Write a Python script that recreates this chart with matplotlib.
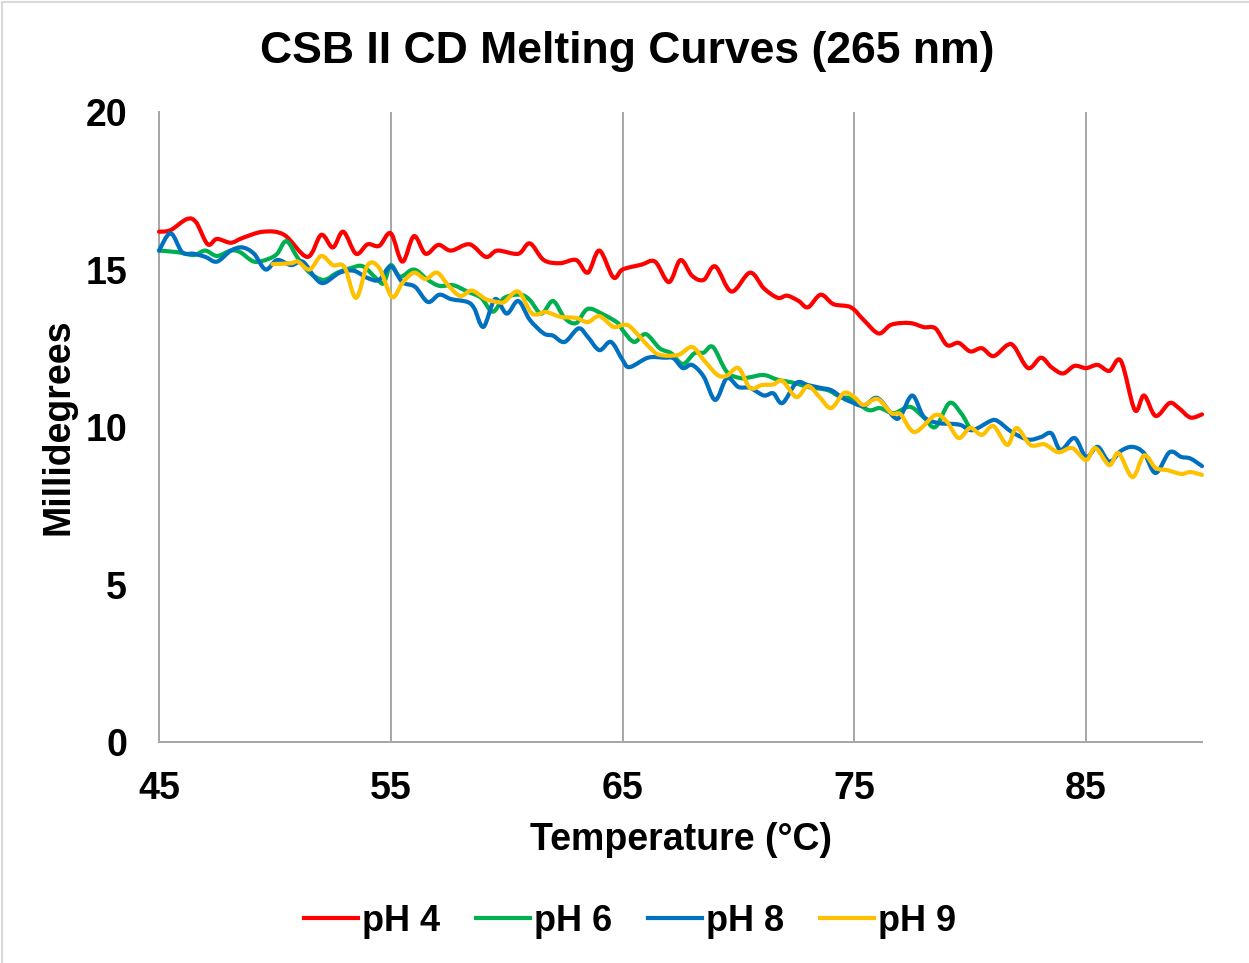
import matplotlib
matplotlib.use("Agg")
import matplotlib.pyplot as plt
from matplotlib.lines import Line2D
from matplotlib.path import Path
from matplotlib.patches import PathPatch

plt.rcParams['font.family'] = ['Liberation Sans', 'DejaVu Sans']
plt.rcParams['font.weight'] = 'bold'

# ---- data: temperature (°C) and CD signal (millidegrees) per pH ----
t_ph4 = [45.0, 45.5, 46.2, 46.6, 47.1, 47.5, 48.1, 48.6, 49.5, 50.4, 51.4, 52.0, 52.5, 52.95,
         53.5, 54.0, 54.5, 55.0, 55.5, 56.0, 56.5, 57.05, 57.6, 58.4, 59.1, 59.6, 60.5, 61.0,
         61.6, 62.3, 63.0, 63.5, 64.0, 64.6, 65.0, 65.8, 66.4, 67.0, 67.5, 68.0, 68.5, 69.0,
         69.7, 70.5, 71.1, 71.7, 72.1, 72.6, 73.0, 73.55, 74.1, 74.85, 75.4, 76.05, 76.6, 77.4,
         78.0, 78.5, 79.0, 79.5, 80.0, 80.5, 81.0, 81.6, 81.9, 82.5, 83.05, 83.5, 84.0, 84.5,
         85.0, 85.5, 86.0, 86.5, 87.1, 87.5, 88.0, 88.6, 89.0, 89.5, 90.0]
v_ph4 = [16.2, 16.25, 16.6, 16.5, 15.8, 15.97, 15.85, 16.0, 16.2, 16.1, 15.4, 16.1, 15.7, 16.2,
         15.5, 15.8, 15.75, 16.15, 15.25, 16.06, 15.5, 15.78, 15.6, 15.8, 15.4, 15.6, 15.5, 15.83,
         15.3, 15.2, 15.3, 14.9, 15.6, 14.75, 15.0, 15.15, 15.25, 14.6, 15.3, 14.8, 14.67, 15.1,
         14.3, 14.9, 14.4, 14.1, 14.17, 14.0, 13.8, 14.2, 13.9, 13.8, 13.4, 12.97, 13.25, 13.3,
         13.17, 13.13, 12.6, 12.67, 12.4, 12.5, 12.25, 12.6, 12.55, 11.87, 12.2, 11.9, 11.7, 11.94,
         11.87, 11.97, 11.78, 12.1, 10.54, 11.0, 10.35, 10.76, 10.6, 10.3, 10.4]

t_ph6 = [45.0, 45.8, 46.5, 47.0, 47.5, 48.1, 48.5, 49.1, 49.7, 50.1, 50.5, 51.0, 51.5, 52.1,
         52.7, 53.3, 53.8, 54.4, 54.7, 55.0, 55.4, 56.0, 56.6, 57.1, 57.7, 58.3, 58.9, 59.4,
         59.9, 60.6, 61.0, 61.5, 62.0, 62.5, 63.0, 63.5, 64.2, 64.8, 65.0, 65.5, 66.0, 66.6,
         67.1, 67.6, 68.1, 68.5, 68.9, 69.5, 70.1, 70.5, 71.1, 71.7, 72.4, 73.0, 73.85, 74.4,
         74.85, 75.6, 76.1, 76.7, 77.4, 78.0, 78.5, 79.1, 79.6, 79.95]
v_ph6 = [15.6, 15.55, 15.46, 15.6, 15.43, 15.6, 15.55, 15.25, 15.33, 15.5, 15.9, 15.35, 14.9, 14.67,
         14.9, 15.05, 15.1, 14.7, 14.57, 15.14, 14.77, 15.0, 14.67, 14.48, 14.5, 14.3, 14.1, 13.66,
         14.1, 14.2, 14.03, 13.6, 14.0, 13.46, 13.3, 13.75, 13.56, 13.3, 13.08, 12.7, 12.95, 12.5,
         12.34, 12.0, 12.34, 12.36, 12.54, 11.75, 11.55, 11.58, 11.65, 11.5, 11.4, 11.27, 11.17, 10.95,
         10.9, 10.54, 10.6, 10.44, 10.64, 10.3, 10.0, 10.76, 10.44, 10.0]

t_ph8 = [45.0, 45.5, 46.0, 46.5, 47.0, 47.5, 48.1, 48.6, 49.1, 49.6, 50.1, 50.7, 51.2, 51.7,
         52.1, 52.8, 53.4, 54.0, 54.5, 55.0, 55.5, 56.05, 56.6, 57.1, 57.6, 58.3, 58.6, 59.0,
         59.5, 60.0, 60.5, 61.0, 61.6, 62.0, 62.5, 63.1, 63.5, 64.0, 64.5, 65.0, 65.3, 66.1,
         66.8, 67.2, 67.6, 68.0, 68.5, 69.0, 69.5, 70.0, 70.5, 71.1, 71.5, 71.9, 72.5, 73.0,
         73.55, 74.0, 74.5, 74.85, 75.4, 76.0, 76.7, 77.0, 77.5, 78.0, 78.6, 79.2, 79.6, 80.1,
         80.9, 81.2, 81.8, 82.5, 83.05, 83.5, 83.9, 84.5, 85.0, 85.5, 86.0, 86.5, 87.0, 87.5,
         88.0, 88.6, 89.1, 89.5, 90.0]
v_ph8 = [15.6, 16.15, 15.55, 15.5, 15.4, 15.25, 15.6, 15.7, 15.5, 15.0, 15.3, 15.14, 15.25, 14.77,
         14.57, 14.9, 14.96, 14.73, 14.67, 15.1, 14.6, 14.45, 13.97, 14.2, 14.06, 13.97, 13.77, 13.18,
         14.06, 13.6, 14.0, 13.4, 12.97, 12.9, 12.7, 13.13, 12.86, 12.44, 12.7, 12.13, 11.9, 12.2,
         12.2, 12.18, 11.87, 11.97, 11.6, 10.86, 11.55, 11.27, 11.24, 11.0, 11.07, 10.76, 11.4, 11.33,
         11.24, 11.17, 10.92, 10.8, 10.67, 10.92, 10.32, 10.35, 11.0, 10.32, 10.13, 10.1, 10.06, 9.9,
         10.2, 10.18, 9.84, 9.6, 9.68, 9.8, 9.27, 9.65, 9.05, 9.37, 8.9, 9.24, 9.37, 9.17,
         8.54, 9.2, 9.05, 9.0, 8.76]

t_ph9 = [49.9, 50.7, 51.0, 51.5, 52.0, 52.5, 53.0, 53.5, 54.0, 54.5, 55.05, 55.5, 56.0, 56.5,
         57.0, 57.5, 58.0, 58.5, 59.1, 59.6, 59.9, 60.5, 61.1, 61.7, 62.3, 63.0, 63.5, 64.0,
         64.6, 65.0, 65.3, 65.8, 66.2, 66.6, 67.4, 68.0, 68.5, 69.1, 69.5, 70.0, 70.5, 71.0,
         71.5, 71.9, 72.5, 73.0, 73.5, 74.0, 74.55, 75.0, 75.4, 76.0, 76.6, 77.0, 77.6, 78.5,
         79.0, 79.5, 80.0, 80.5, 81.0, 81.6, 82.0, 82.6, 83.2, 83.8, 84.4, 85.0, 85.4, 86.0,
         86.4, 87.0, 87.5, 88.0, 88.5, 89.1, 89.5, 90.0]
v_ph9 = [15.17, 15.2, 15.25, 15.0, 15.43, 15.14, 15.08, 14.1, 15.14, 15.05, 14.13, 14.57, 14.9, 14.7,
         14.9, 14.48, 14.16, 14.33, 14.06, 13.97, 13.97, 14.3, 13.6, 13.65, 13.5, 13.46, 13.33, 13.52,
         13.18, 13.24, 13.2, 12.82, 12.5, 12.29, 12.29, 12.54, 12.13, 11.65, 11.63, 11.87, 11.24, 11.33,
         11.35, 11.46, 10.95, 11.3, 10.95, 10.6, 11.08, 10.95, 10.7, 10.89, 10.44, 10.4, 9.84, 10.38,
         10.16, 9.65, 9.97, 9.75, 10.03, 9.43, 9.97, 9.43, 9.45, 9.2, 9.33, 8.95, 9.33, 8.79,
         9.17, 8.41, 9.1, 8.7, 8.63, 8.51, 8.57, 8.48]

series = [
    ("pH 4", t_ph4, v_ph4, "#FF0000"),
    ("pH 6", t_ph6, v_ph6, "#00B050"),
    ("pH 8", t_ph8, v_ph8, "#0070C0"),
    ("pH 9", t_ph9, v_ph9, "#FFC000"),
]

x_ticks = [45, 55, 65, 75, 85]
y_ticks = [0, 5, 10, 15, 20]

LW = 3.0


def smooth_path(xs, ys):
    """Spreadsheet-style smoothed line: cubic Bezier segments through every point."""
    n = len(xs)
    verts = [(xs[0], ys[0])]
    codes = [Path.MOVETO]
    for i in range(n - 1):
        x0, y0 = (xs[i - 1], ys[i - 1]) if i > 0 else (xs[i], ys[i])
        x1, y1 = xs[i], ys[i]
        x2, y2 = xs[i + 1], ys[i + 1]
        x3, y3 = (xs[i + 2], ys[i + 2]) if i + 2 < n else (x2, y2)
        c1 = (x1 + (x2 - x0) / 6.0, y1 + (y2 - y0) / 6.0)
        c2 = (x2 - (x3 - x1) / 6.0, y2 - (y3 - y1) / 6.0)
        verts += [c1, c2, (x2, y2)]
        codes += [Path.CURVE4] * 3
    return Path(verts, codes)


W, H = 1249, 963
fig = plt.figure(figsize=(W / 100, H / 100), dpi=100)
ax = fig.add_axes([159 / W, 1 - 742 / H, (1202 - 159) / W, (742 - 112) / H])

for label, t, v, color in series:
    ax.add_patch(PathPatch(smooth_path(t, v), fill=False, edgecolor=color, lw=LW,
                           joinstyle='round', capstyle='round', zorder=3, clip_on=False))

ax.set_xlim(45, 90)
ax.set_ylim(0, 20)
ax.set_xticks(x_ticks)
ax.set_yticks(y_ticks)
ax.tick_params(axis='both', length=0, labelsize=27)
ax.tick_params(axis='x', pad=21)
ax.tick_params(axis='y', pad=23)
for lbl in ax.get_xticklabels() + ax.get_yticklabels():
    lbl.set_fontweight('bold')

ax.grid(axis='x', color='#A6A6A6', lw=1.4, zorder=1)
ax.grid(axis='y', visible=False)
for side in ('top', 'right'):
    ax.spines[side].set_visible(False)
for side in ('left', 'bottom'):
    ax.spines[side].set_color('#A6A6A6')
    ax.spines[side].set_linewidth(1.4)

ax.set_xlabel("Temperature (°C)", fontsize=27, fontweight='bold', labelpad=11)
ax.set_ylabel("Millidegrees", fontsize=27, fontweight='bold', labelpad=6)

fig.text(627 / W, 1 - 52 / H, "CSB II CD Melting Curves (265 nm)", ha='center', va='center',
         fontsize=32, fontweight='bold')

handles = [Line2D([0], [0], color=c, lw=LW) for _, _, _, c in series]
fig.legend(handles, [s[0] for s in series], loc='center', bbox_to_anchor=(630 / W, 1 - 921 / H),
           ncol=4, frameon=False, handlelength=1.5, handletextpad=0.1,
           columnspacing=1.0, prop={'weight': 'bold', 'size': 26})

# thin chart-area border
fig.add_artist(Line2D([0.0015, 0.0015], [0, 0.998], transform=fig.transFigure, color='#D9D9D9', lw=1.5))
fig.add_artist(Line2D([0.0015, 1], [0.998, 0.998], transform=fig.transFigure, color='#D9D9D9', lw=1.5))

fig.savefig("out.png", dpi=100)
